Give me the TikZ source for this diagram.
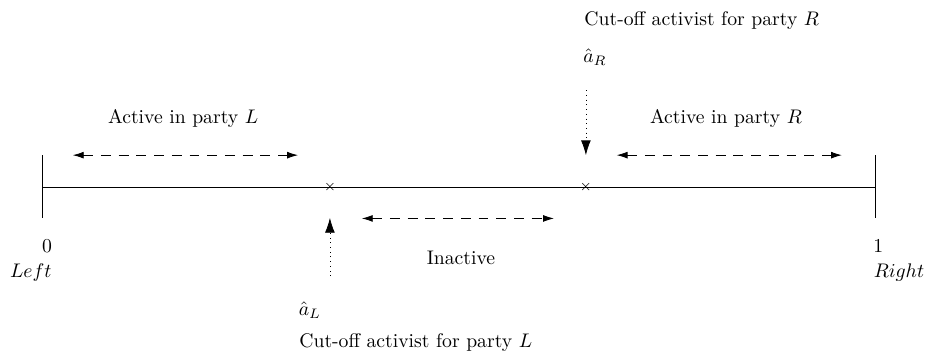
\documentclass[tikz,border=0pt]{standalone}
\usetikzlibrary{arrows.meta}
\begin{document}
\begin{tikzpicture}[
    span/.style={dash pattern=on 5pt off 4pt, {Latex[length=5.5pt,width=3.5pt]}-{Latex[length=5.5pt,width=3.5pt]}},
    pointer/.style={dotted, -{Latex[length=7.5pt,width=5pt]}},
    crossmark/.style={inner sep=0pt, font=\scriptsize}]
  \useasboundingbox (0,0) rectangle (16.55,6.32);
  % the line from 0 to 1
  \coordinate (zero) at (0.75,2.98);
  \coordinate (one) at (15.62,2.98);
  \draw (zero) -- (one);
  \draw (zero) ++(0,-.55) -- ++(0,1.12);
  \draw (one) ++(0,-.55) -- ++(0,1.12);
  \node (n0) at (0.84,1.93) {0};
  \node (nleft) at (0.55,1.46) {$Left$};
  \node (n1) at (15.68,1.93) {1};
  \node (nright) at (16.05,1.46) {$Right$};

  % cut-off activists
  \node [crossmark] (xL) at (5.89,2.98) {$\times$};
  \node [crossmark] (xR) at (10.46,2.98) {$\times$};
  \coordinate (tL) at (5.89,1.39);
  \coordinate (hL) at (5.89,2.43);
  \coordinate (tR) at (10.46,4.71);
  \coordinate (hR) at (10.46,3.55);
  \draw [pointer] (tL) -- (hL);
  \draw [pointer] (tR) -- (hR);
  \node [anchor=west] (aL) at (5.21,0.79) {$\hat{a}_L$};
  \node [anchor=west] (cutL) at (5.22,0.21) {Cut-off activist for party $L$};
  \node [anchor=west] (aR) at (10.29,5.30) {$\hat{a}_R$};
  \node [anchor=west] (cutR) at (10.31,5.96) {Cut-off activist for party $R$};

  % ranges
  \coordinate (l1) at (1.30,3.55);
  \coordinate (l2) at (5.32,3.55);
  \coordinate (r1) at (11.01,3.55);
  \coordinate (r2) at (15.03,3.55);
  \coordinate (i1) at (6.46,2.42);
  \coordinate (i2) at (9.89,2.42);
  \draw [span] (l1) -- (l2);
  \draw [span] (r1) -- (r2);
  \draw [span] (i1) -- (i2);
  \node (actL) at (3.27,4.21) {Active in party $L$};
  \node (actR) at (12.96,4.21) {Active in party $R$};
  \node (inact) at (8.23,1.71) {Inactive};
\end{tikzpicture}
\end{document}
